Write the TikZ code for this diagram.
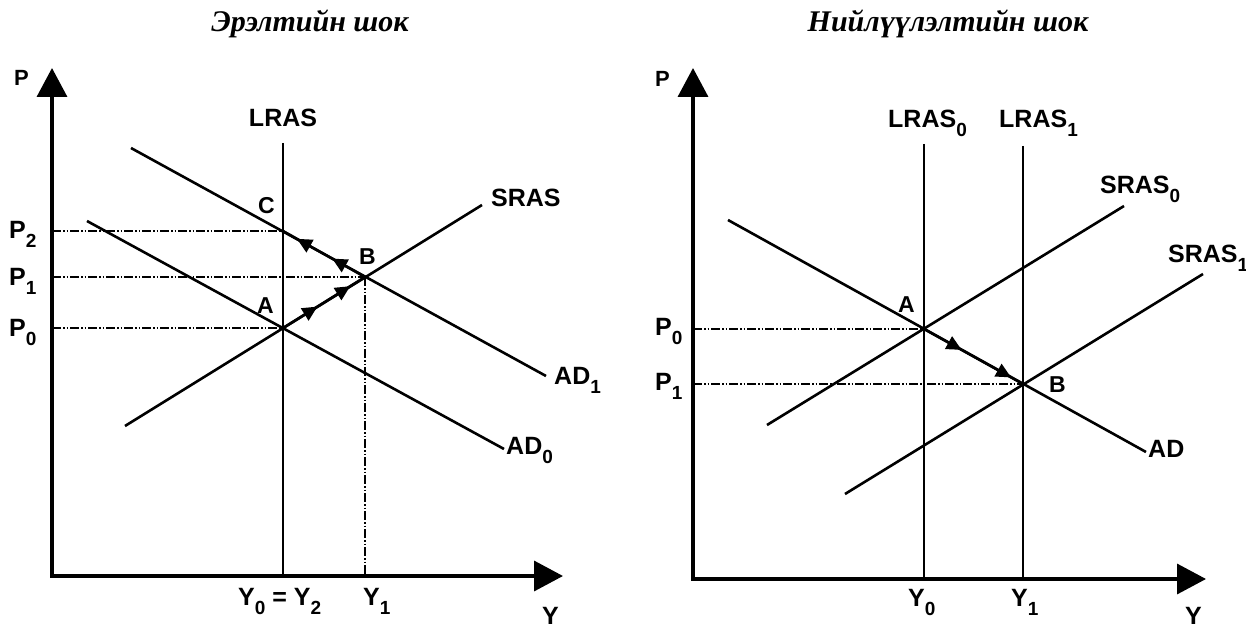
\documentclass[tikz,border=0pt]{standalone}
\usepackage{fontspec}
\setmainfont{Liberation Serif}
\newfontfamily\labfont{Liberation Sans}
\usetikzlibrary{arrows.meta,decorations.markings}
\newcommand\sbs[1]{\raisebox{-9pt}{\fontsize{19}{19}\selectfont #1}}
\tikzset{
  tri/.tip={Triangle[length=15pt,width=14pt]},
  bigtri/.tip={Triangle[length=29pt,width=30pt]},
  curve/.style={line width=2.6pt},
  axisline/.style={line width=3.5pt,{bigtri}-{bigtri}},
  guide/.style={line width=1.4pt,dash pattern=on 9pt off 2pt on 1.5pt off 2pt on 1.5pt off 2pt},
  lab/.style={font=\labfont\bfseries\fontsize{25}{25}\selectfont,inner sep=0pt,anchor=base west},
  plab/.style={font=\labfont\bfseries\fontsize{22}{22}\selectfont,inner sep=0pt,anchor=base west},
  ptlab/.style={font=\labfont\bfseries\fontsize{23}{23}\selectfont,inner sep=0pt,anchor=base west},
  ttl/.style={font=\bfseries\itshape\fontsize{30}{30}\selectfont,inner sep=0pt,anchor=base},
  midarrows/.style 2 args={postaction={decorate},decoration={markings,
     mark=at position #1 with {\arrow{tri}},mark=at position #2 with {\arrow{tri}}}}
}
\begin{document}
\begin{tikzpicture}[x=1pt,y=-1pt]
\useasboundingbox (0,0) rectangle (1246,628);
\fill[white] (0,0) rectangle (1246,628);
% ---------------- left panel ----------------
\node[ttl] (t1) at (310,32) {Эрэлтийн шок};
\coordinate (O1) at (52,576);
\coordinate (Pt1) at (52,68);
\coordinate (Xt1) at (563,576);
\coordinate (A1) at (283,328);
\coordinate (B1) at (365,277);
\coordinate (C1) at (283,231);
\coordinate (lr1) at (283,143);
\coordinate (lrb1) at (283,576);
\coordinate (yb1) at (365,576);
\coordinate (ad0a) at (87,221);
\coordinate (ad0b) at (504,449);
\coordinate (ad1a) at (131,148);
\coordinate (ad1b) at (546,376);
\coordinate (sra) at (125,426);
\coordinate (srb) at (482,205);
\coordinate (p0l) at (52,328);
\coordinate (p1l) at (52,277);
\coordinate (p2l) at (52,231);
\draw[guide] (p0l) -- (A1);
\draw[guide,line width=2.2pt] (p1l) -- (B1);
\draw[guide] (p2l) -- (C1);
\draw[guide] (B1) -- (yb1);
\draw[line width=1.2pt] (lr1) -- (lrb1);
\draw[curve] (ad0a) -- (ad0b);
\draw[curve] (ad1a) -- (ad1b);
\draw[curve] (sra) -- (srb);
\draw[curve,midarrows={0.42}{0.82}] (A1) -- (B1);
\draw[curve,midarrows={0.40}{0.83}] (B1) -- (C1);
\draw[axisline] (Pt1) -- (O1) -- (Xt1);
\node[plab] (P1ax) at (14,86) {P};
\node[lab] (P2l) at (9,239) {P\sbs{2}};
\node[lab] (P1l) at (9,285) {P\sbs{1}};
\node[lab] (P0l) at (9,336) {P\sbs{0}};
\node[lab,anchor=base] (LRASl) at (283,127) {LRAS};
\node[lab] (SRASl) at (491,207) {SRAS};
\node[lab] (AD1l) at (554,384) {AD\sbs{1}};
\node[lab] (AD0l) at (506,454) {AD\sbs{0}};
\node[ptlab] (Cl) at (258,214) {C};
\node[ptlab] (Bl) at (359,264) {B};
\node[ptlab] (Al) at (257,313) {A};
\node[lab] (Y02) at (238,605) {Y\sbs{0} = Y\sbs{2}};
\node[lab] (Y1l) at (363,605) {Y\sbs{1}};
\node[lab] (Yax1) at (542,624) {Y};
% ---------------- right panel ----------------
\node[ttl] (t2) at (948,32) {Нийлүүлэлтийн шок};
\coordinate (O2) at (693,579);
\coordinate (Pt2) at (693,68);
\coordinate (Xt2) at (1206,579);
\coordinate (A2) at (924,329);
\coordinate (B2) at (1023,384);
\coordinate (l0t) at (924,144);
\coordinate (l0b) at (924,579);
\coordinate (l1t) at (1023,146);
\coordinate (l1b) at (1023,579);
\coordinate (ada) at (728,220);
\coordinate (adb) at (1146,452);
\coordinate (s0a) at (767,425);
\coordinate (s0b) at (1124,206);
\coordinate (s1a) at (845,494);
\coordinate (s1b) at (1203,274);
\coordinate (p0r) at (693,329);
\coordinate (p1r) at (693,384);
\draw[guide] (p0r) -- (A2);
\draw[guide] (p1r) -- (B2);
\draw[line width=2pt] (l0t) -- (l0b);
\draw[line width=2pt] (l1t) -- (l1b);
\draw[curve] (ada) -- (adb);
\draw[curve] (s0a) -- (s0b);
\draw[curve] (s1a) -- (s1b);
\draw[curve,midarrows={0.38}{0.88}] (A2) -- (B2);
\draw[axisline] (Pt2) -- (O2) -- (Xt2);
\node[plab] (P2ax) at (655,87) {P};
\node[lab] (P0r) at (655,335) {P\sbs{0}};
\node[lab] (P1r) at (655,390) {P\sbs{1}};
\node[lab] (LR0) at (888,128) {LRAS\sbs{0}};
\node[lab] (LR1) at (999,128) {LRAS\sbs{1}};
\node[lab] (SR0) at (1100,194) {SRAS\sbs{0}};
\node[lab] (SR1) at (1168,262) {SRAS\sbs{1}};
\node[lab] (ADr) at (1148,457) {AD};
\node[ptlab] (Ar) at (898,312) {A};
\node[ptlab] (Br) at (1049,392) {B};
\node[lab] (Y0r) at (908,606) {Y\sbs{0}};
\node[lab] (Y1r) at (1011,606) {Y\sbs{1}};
\node[lab] (Yax2) at (1185,624) {Y};
\end{tikzpicture}
\end{document}
